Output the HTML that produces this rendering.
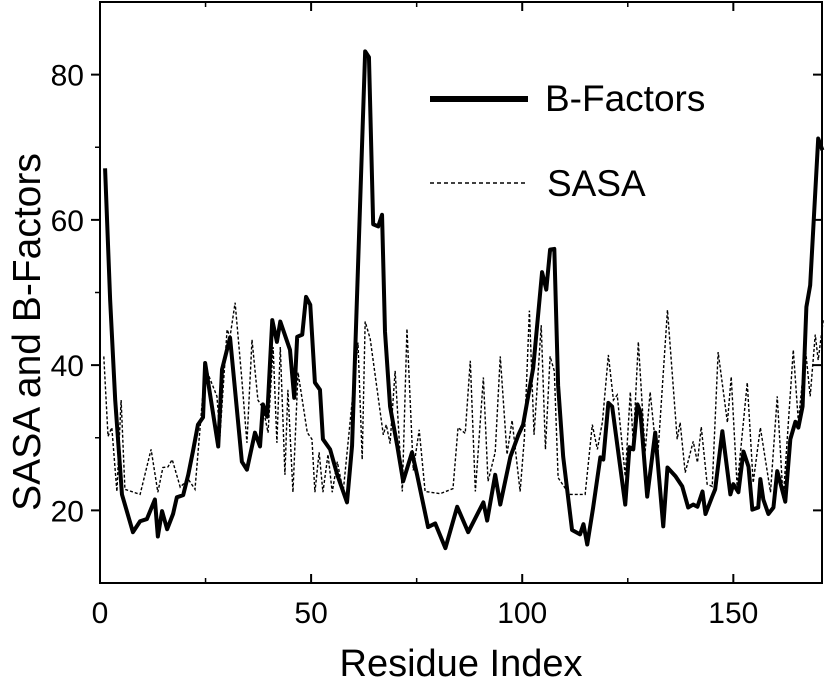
<!DOCTYPE html>
<html><head><meta charset="utf-8"><style>
html,body{margin:0;padding:0;background:#fff;}
svg{display:block;font-family:"Liberation Sans",Arial,sans-serif;}
</style></head><body>
<svg id="chart" width="825" height="682" viewBox="0 0 825 682" xmlns="http://www.w3.org/2000/svg">
<g id="axes"></g>
<g id="series"></g>
<g id="legend">
  <line x1="430" y1="99" x2="528" y2="99" stroke="#000" stroke-width="6"/>
  <text x="545" y="111" font-size="37">B-Factors</text>
  <line x1="430" y1="183" x2="528" y2="183" stroke="#000" stroke-width="1.4" stroke-dasharray="4,3"/>
  <text x="547" y="196" font-size="37">SASA</text>
</g>
<text x="461" y="676" font-size="38" text-anchor="middle">Residue Index</text>
<text transform="translate(40,332) rotate(-90)" font-size="39" text-anchor="middle">SASA and B-Factors</text>
</svg>
<script>
const bResidue=[1.2,2.4,3.6,5.2,7.8,9.5,11.1,13.0,13.7,14.7,15.9,17.3,18.2,19.7,20.9,22.0,23.2,24.4,24.9,28.0,28.9,30.8,33.6,34.8,36.7,37.9,38.6,39.6,40.8,41.9,42.7,45.0,46.0,46.7,47.9,48.8,49.8,50.9,52.1,52.8,54.5,56.2,58.5,59.7,62.8,63.7,64.7,65.9,66.8,67.5,68.7,70.4,71.8,73.9,75.1,77.7,79.4,81.8,84.6,87.2,90.8,91.7,93.6,94.8,97.2,99.1,100.2,102.6,104.7,105.7,106.6,107.6,108.5,109.7,111.8,113.7,114.5,115.4,116.8,118.5,119.2,120.4,121.3,124.4,125.4,126.3,127.3,128.0,129.6,131.5,133.4,134.4,136.3,137.9,139.3,140.5,141.5,142.7,143.4,145.0,145.7,147.4,149.3,150.0,151.2,152.4,153.6,154.5,155.9,156.4,157.1,158.3,159.5,160.4,162.3,163.5,164.7,165.4,166.4,167.3,168.2,170.1,171.1];
const bValues=[67.1,49.0,35.2,22.2,17.0,18.5,18.8,21.5,16.4,19.9,17.4,19.5,21.8,22.1,24.9,28.1,31.8,32.8,40.3,28.8,39.4,43.8,26.7,25.6,30.7,28.8,34.6,32.9,46.2,43.2,46.0,42.1,35.5,43.9,44.2,49.4,48.3,37.6,36.6,29.8,28.4,24.9,21.1,28.9,83.2,82.4,59.4,59.1,60.7,44.6,34.3,28.9,24.0,28.0,24.9,17.7,18.2,14.8,20.5,17.0,21.1,18.6,24.9,20.8,27.4,30.4,31.8,39.6,52.8,50.4,55.9,56.0,37.2,27.4,17.3,16.7,18.1,15.3,20.4,27.3,27.0,34.8,34.3,20.8,28.7,28.4,34.6,33.5,21.9,30.7,17.8,25.9,24.7,23.3,20.4,20.8,20.5,22.6,19.5,21.9,22.9,30.9,22.2,23.6,22.5,28.1,26.0,20.1,20.4,24.3,21.5,19.5,20.4,25.4,21.2,29.8,32.2,31.4,34.3,48.0,51.0,71.2,69.6];
const sResidue=[0.9,1.9,2.8,4.0,5.0,5.9,9.5,12.1,13.7,14.9,16.1,17.1,19.0,20.9,22.5,24.9,27.7,28.4,30.1,30.8,32.0,33.6,34.8,36.0,37.4,38.6,39.8,41.0,41.9,42.7,43.8,44.5,45.7,46.9,49.1,50.2,50.9,51.9,52.8,54.0,55.0,56.2,57.6,61.1,62.1,62.8,64.0,67.1,67.8,68.7,69.9,71.6,72.7,74.2,75.6,77.0,80.6,83.6,84.8,86.5,87.7,88.9,90.8,91.9,93.6,94.8,96.4,97.6,99.5,100.5,101.7,102.8,104.5,105.5,106.6,107.6,108.5,110.7,111.4,114.9,116.6,117.8,119.0,120.4,121.6,122.5,124.4,125.6,126.3,127.5,129.1,130.3,132.0,134.4,136.7,137.4,138.6,140.5,141.5,142.4,143.8,145.0,146.4,148.6,149.5,150.9,153.3,154.7,156.4,158.8,160.4,161.8,164.2,165.4,167.1,168.2,169.4,170.1,171.3];
const sValues=[41.2,30.2,31.4,22.6,35.2,22.9,22.2,28.4,22.5,25.9,26.0,27.0,23.2,24.3,22.9,39.8,35.7,30.2,44.9,43.9,48.6,38.0,29.3,43.5,35.2,34.1,30.7,42.5,29.3,42.5,24.9,36.6,22.5,39.0,30.7,29.8,22.5,28.0,22.5,27.7,22.5,26.7,22.6,43.1,27.0,46.0,43.6,30.4,31.8,29.2,39.2,22.6,45.0,25.5,31.1,22.6,22.3,23.0,31.4,30.6,40.6,22.6,38.3,24.0,28.0,41.2,27.7,32.4,22.6,29.9,47.5,30.4,45.5,28.4,41.2,39.2,24.5,22.6,22.2,22.2,31.8,28.4,32.2,41.4,35.2,35.9,24.7,36.3,29.1,43.2,28.0,36.3,26.6,47.6,29.8,32.1,25.2,29.5,26.6,31.5,23.6,23.3,41.8,32.1,38.4,23.3,37.6,23.8,31.4,22.5,35.7,21.5,42.1,32.2,42.1,35.7,44.2,40.7,46.2];
const xTicks=[0,50,100,150];
const xMinor=[25,75,125];
const yTicks=[20,40,60,80];
const yMinor=[30,50,70];

const L=100,R=822,T=2,B=583,XMIN=0,XMAX=171,YMIN=10,YMAX=90;
function sx(v){return L+(v-XMIN)/(XMAX-XMIN)*(R-L);}
function sy(v){return B-(v-YMIN)/(YMAX-YMIN)*(B-T);}
const NS='http://www.w3.org/2000/svg';
function mk(tag,attrs,parent){const e=document.createElementNS(NS,tag);for(const k in attrs)e.setAttribute(k,attrs[k]);parent.appendChild(e);return e;}
const axes=document.getElementById('axes');
const frame=mk('rect',{x:L,y:T,width:R-L,height:B-T,fill:'none',stroke:'#000','stroke-width':2},axes);


xTicks.forEach(v=>{
  const t=mk('line',{x1:sx(v),x2:sx(v),y1:B,y2:B-9,stroke:'#000','stroke-width':2},axes);
  
  
  const t2=mk('line',{x1:sx(v),x2:sx(v),y1:T,y2:T+9,stroke:'#000','stroke-width':2},axes);
  
  
  const tx=mk('text',{x:sx(v),y:B+40,'font-size':30,'text-anchor':'middle'},axes);
  tx.textContent=v;
  
  
});
xMinor.forEach(v=>{
  const t=mk('line',{x1:sx(v),x2:sx(v),y1:B,y2:B-5,stroke:'#000','stroke-width':1.5},axes);
  
  
  const t2=mk('line',{x1:sx(v),x2:sx(v),y1:T,y2:T+5,stroke:'#000','stroke-width':1.5},axes);
  
  
});
yTicks.forEach(v=>{
  const t=mk('line',{x1:L-9,x2:L,y1:sy(v),y2:sy(v),stroke:'#000','stroke-width':2},axes);
  
  
  const t2=mk('line',{x1:R-9,x2:R,y1:sy(v),y2:sy(v),stroke:'#000','stroke-width':2},axes);
  
  
  const tx=mk('text',{x:L-16,y:sy(v)+11,'font-size':30,'text-anchor':'end'},axes);
  tx.textContent=v;
  
  
});
yMinor.forEach(v=>{
  const t=mk('line',{x1:L-5,x2:L,y1:sy(v),y2:sy(v),stroke:'#000','stroke-width':1.5},axes);
  
  
});
const series=document.getElementById('series');
const sp=mk('polyline',{points:sResidue.map((x,i)=>sx(x)+','+sy(sValues[i])).join(' '),fill:'none',stroke:'#000','stroke-width':1.4,'stroke-dasharray':'3,2'},series);


const bp=mk('polyline',{points:bResidue.map((x,i)=>sx(x)+','+sy(bValues[i])).join(' '),fill:'none',stroke:'#000','stroke-width':4,'stroke-linejoin':'round'},series);


</script>
</body></html>
